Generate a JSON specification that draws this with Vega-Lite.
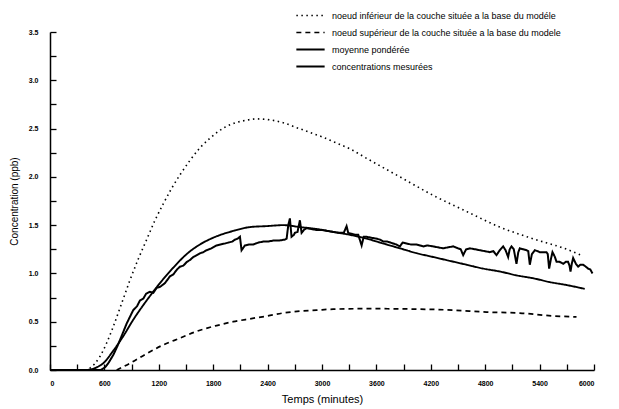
{
  "$schema": "https://vega.github.io/schema/vega-lite/v6.json",
  "width": 544,
  "height": 338,
  "autosize": {"type": "none"},
  "padding": {"left": 50, "top": 32, "right": 25, "bottom": 39},
  "background": "white",
  "config": {
    "view": {"stroke": null},
    "font": "Liberation Sans",
    "axis": {"domainColor": "black", "domainWidth": 1.5, "tickColor": "black", "tickWidth": 1.3, "grid": false, "labelColor": "black", "titleColor": "black", "labelFont": "Liberation Sans", "titleFont": "Liberation Sans", "titleFontWeight": "normal", "zindex": 1}
  },
  "datasets": {
    "curves": [
      {"t": 0, "c": 0, "s": "noeud inférieur de la couche située a la base du modéle"},
      {"t": 380, "c": 0, "s": "noeud inférieur de la couche située a la base du modéle"},
      {"t": 441, "c": 0.02, "s": "noeud inférieur de la couche située a la base du modéle"},
      {"t": 551, "c": 0.14, "s": "noeud inférieur de la couche située a la base du modéle"},
      {"t": 625, "c": 0.28, "s": "noeud inférieur de la couche située a la base du modéle"},
      {"t": 698, "c": 0.45, "s": "noeud inférieur de la couche située a la base du modéle"},
      {"t": 790, "c": 0.69, "s": "noeud inférieur de la couche située a la base du modéle"},
      {"t": 882, "c": 0.93, "s": "noeud inférieur de la couche située a la base du modéle"},
      {"t": 974, "c": 1.15, "s": "noeud inférieur de la couche située a la base du modéle"},
      {"t": 1066, "c": 1.35, "s": "noeud inférieur de la couche située a la base du modéle"},
      {"t": 1158, "c": 1.55, "s": "noeud inférieur de la couche située a la base du modéle"},
      {"t": 1249, "c": 1.72, "s": "noeud inférieur de la couche située a la base du modéle"},
      {"t": 1341, "c": 1.88, "s": "noeud inférieur de la couche située a la base du modéle"},
      {"t": 1433, "c": 2.02, "s": "noeud inférieur de la couche située a la base du modéle"},
      {"t": 1544, "c": 2.17, "s": "noeud inférieur de la couche située a la base du modéle"},
      {"t": 1654, "c": 2.3, "s": "noeud inférieur de la couche située a la base du modéle"},
      {"t": 1764, "c": 2.4, "s": "noeud inférieur de la couche située a la base du modéle"},
      {"t": 1856, "c": 2.47, "s": "noeud inférieur de la couche située a la base du modéle"},
      {"t": 1985, "c": 2.54, "s": "noeud inférieur de la couche située a la base du modéle"},
      {"t": 2131, "c": 2.58, "s": "noeud inférieur de la couche située a la base du modéle"},
      {"t": 2279, "c": 2.6, "s": "noeud inférieur de la couche située a la base du modéle"},
      {"t": 2426, "c": 2.59, "s": "noeud inférieur de la couche située a la base du modéle"},
      {"t": 2572, "c": 2.56, "s": "noeud inférieur de la couche située a la base du modéle"},
      {"t": 2720, "c": 2.51, "s": "noeud inférieur de la couche située a la base du modéle"},
      {"t": 2866, "c": 2.46, "s": "noeud inférieur de la couche située a la base du modéle"},
      {"t": 3013, "c": 2.41, "s": "noeud inférieur de la couche située a la base du modéle"},
      {"t": 3161, "c": 2.35, "s": "noeud inférieur de la couche située a la base du modéle"},
      {"t": 3308, "c": 2.29, "s": "noeud inférieur de la couche située a la base du modéle"},
      {"t": 3495, "c": 2.19, "s": "noeud inférieur de la couche située a la base du modéle"},
      {"t": 3859, "c": 2.0, "s": "noeud inférieur de la couche située a la base du modéle"},
      {"t": 4223, "c": 1.81, "s": "noeud inférieur de la couche située a la base du modéle"},
      {"t": 4598, "c": 1.64, "s": "noeud inférieur de la couche située a la base du modéle"},
      {"t": 4961, "c": 1.48, "s": "noeud inférieur de la couche située a la base du modéle"},
      {"t": 5325, "c": 1.36, "s": "noeud inférieur de la couche située a la base du modéle"},
      {"t": 5700, "c": 1.25, "s": "noeud inférieur de la couche située a la base du modéle"},
      {"t": 5880, "c": 1.18, "s": "noeud inférieur de la couche située a la base du modéle"},

      {"t": 735, "c": 0, "s": "noeud supérieur de la couche située a la base du modele"},
      {"t": 882, "c": 0.07, "s": "noeud supérieur de la couche située a la base du modele"},
      {"t": 1066, "c": 0.17, "s": "noeud supérieur de la couche située a la base du modele"},
      {"t": 1249, "c": 0.26, "s": "noeud supérieur de la couche située a la base du modele"},
      {"t": 1433, "c": 0.33, "s": "noeud supérieur de la couche située a la base du modele"},
      {"t": 1617, "c": 0.4, "s": "noeud supérieur de la couche située a la base du modele"},
      {"t": 1838, "c": 0.46, "s": "noeud supérieur de la couche située a la base du modele"},
      {"t": 2021, "c": 0.5, "s": "noeud supérieur de la couche située a la base du modele"},
      {"t": 2205, "c": 0.53, "s": "noeud supérieur de la couche située a la base du modele"},
      {"t": 2400, "c": 0.56, "s": "noeud supérieur de la couche située a la base du modele"},
      {"t": 2572, "c": 0.59, "s": "noeud supérieur de la couche située a la base du modele"},
      {"t": 2756, "c": 0.61, "s": "noeud supérieur de la couche située a la base du modele"},
      {"t": 2940, "c": 0.62, "s": "noeud supérieur de la couche située a la base du modele"},
      {"t": 3124, "c": 0.63, "s": "noeud supérieur de la couche située a la base du modele"},
      {"t": 3500, "c": 0.635, "s": "noeud supérieur de la couche située a la base du modele"},
      {"t": 4079, "c": 0.63, "s": "noeud supérieur de la couche située a la base du modele"},
      {"t": 4446, "c": 0.62, "s": "noeud supérieur de la couche située a la base du modele"},
      {"t": 4814, "c": 0.6, "s": "noeud supérieur de la couche située a la base du modele"},
      {"t": 5182, "c": 0.59, "s": "noeud supérieur de la couche située a la base du modele"},
      {"t": 5549, "c": 0.56, "s": "noeud supérieur de la couche située a la base du modele"},
      {"t": 5807, "c": 0.55, "s": "noeud supérieur de la couche située a la base du modele"},

      {"t": 0, "c": 0, "s": "moyenne pondérée"},
      {"t": 380, "c": 0, "s": "moyenne pondérée"},
      {"t": 441, "c": 0.005, "s": "moyenne pondérée"},
      {"t": 520, "c": 0.03, "s": "moyenne pondérée"},
      {"t": 588, "c": 0.07, "s": "moyenne pondérée"},
      {"t": 698, "c": 0.2, "s": "moyenne pondérée"},
      {"t": 808, "c": 0.35, "s": "moyenne pondérée"},
      {"t": 918, "c": 0.52, "s": "moyenne pondérée"},
      {"t": 1066, "c": 0.72, "s": "moyenne pondérée"},
      {"t": 1213, "c": 0.9, "s": "moyenne pondérée"},
      {"t": 1360, "c": 1.06, "s": "moyenne pondérée"},
      {"t": 1507, "c": 1.2, "s": "moyenne pondérée"},
      {"t": 1654, "c": 1.3, "s": "moyenne pondérée"},
      {"t": 1801, "c": 1.37, "s": "moyenne pondérée"},
      {"t": 2021, "c": 1.44, "s": "moyenne pondérée"},
      {"t": 2205, "c": 1.48, "s": "moyenne pondérée"},
      {"t": 2389, "c": 1.49, "s": "moyenne pondérée"},
      {"t": 2572, "c": 1.5, "s": "moyenne pondérée"},
      {"t": 2756, "c": 1.48, "s": "moyenne pondérée"},
      {"t": 2940, "c": 1.46, "s": "moyenne pondérée"},
      {"t": 3124, "c": 1.43, "s": "moyenne pondérée"},
      {"t": 3308, "c": 1.4, "s": "moyenne pondérée"},
      {"t": 3492, "c": 1.36, "s": "moyenne pondérée"},
      {"t": 3675, "c": 1.31, "s": "moyenne pondérée"},
      {"t": 3859, "c": 1.26, "s": "moyenne pondérée"},
      {"t": 4043, "c": 1.21, "s": "moyenne pondérée"},
      {"t": 4226, "c": 1.17, "s": "moyenne pondérée"},
      {"t": 4410, "c": 1.13, "s": "moyenne pondérée"},
      {"t": 4594, "c": 1.09, "s": "moyenne pondérée"},
      {"t": 4778, "c": 1.05, "s": "moyenne pondérée"},
      {"t": 4961, "c": 1.02, "s": "moyenne pondérée"},
      {"t": 5145, "c": 0.98, "s": "moyenne pondérée"},
      {"t": 5329, "c": 0.95, "s": "moyenne pondérée"},
      {"t": 5513, "c": 0.91, "s": "moyenne pondérée"},
      {"t": 5696, "c": 0.88, "s": "moyenne pondérée"},
      {"t": 5898, "c": 0.84, "s": "moyenne pondérée"}
    ],
    "measured": [
      {"t": 0, "c": 0, "s": "concentrations mesurées"},
      {"t": 200, "c": 0, "s": "concentrations mesurées"},
      {"t": 400, "c": 0, "s": "concentrations mesurées"},
      {"t": 560, "c": 0, "s": "concentrations mesurées"},
      {"t": 610, "c": 0.03, "s": "concentrations mesurées"},
      {"t": 650, "c": 0.08, "s": "concentrations mesurées"},
      {"t": 700, "c": 0.16, "s": "concentrations mesurées"},
      {"t": 740, "c": 0.24, "s": "concentrations mesurées"},
      {"t": 772, "c": 0.31, "s": "concentrations mesurées"},
      {"t": 845, "c": 0.48, "s": "concentrations mesurées"},
      {"t": 918, "c": 0.62, "s": "concentrations mesurées"},
      {"t": 960, "c": 0.66, "s": "concentrations mesurées"},
      {"t": 992, "c": 0.72, "s": "concentrations mesurées"},
      {"t": 1030, "c": 0.74, "s": "concentrations mesurées"},
      {"t": 1060, "c": 0.79, "s": "concentrations mesurées"},
      {"t": 1103, "c": 0.81, "s": "concentrations mesurées"},
      {"t": 1140, "c": 0.8, "s": "concentrations mesurées"},
      {"t": 1176, "c": 0.85, "s": "concentrations mesurées"},
      {"t": 1213, "c": 0.86, "s": "concentrations mesurées"},
      {"t": 1268, "c": 0.9, "s": "concentrations mesurées"},
      {"t": 1300, "c": 0.94, "s": "concentrations mesurées"},
      {"t": 1323, "c": 0.97, "s": "concentrations mesurées"},
      {"t": 1360, "c": 0.99, "s": "concentrations mesurées"},
      {"t": 1400, "c": 1.04, "s": "concentrations mesurées"},
      {"t": 1433, "c": 1.07, "s": "concentrations mesurées"},
      {"t": 1470, "c": 1.08, "s": "concentrations mesurées"},
      {"t": 1510, "c": 1.12, "s": "concentrations mesurées"},
      {"t": 1545, "c": 1.14, "s": "concentrations mesurées"},
      {"t": 1580, "c": 1.17, "s": "concentrations mesurées"},
      {"t": 1620, "c": 1.19, "s": "concentrations mesurées"},
      {"t": 1660, "c": 1.21, "s": "concentrations mesurées"},
      {"t": 1691, "c": 1.22, "s": "concentrations mesurées"},
      {"t": 1727, "c": 1.24, "s": "concentrations mesurées"},
      {"t": 1780, "c": 1.26, "s": "concentrations mesurées"},
      {"t": 1838, "c": 1.29, "s": "concentrations mesurées"},
      {"t": 1880, "c": 1.3, "s": "concentrations mesurées"},
      {"t": 1930, "c": 1.31, "s": "concentrations mesurées"},
      {"t": 1970, "c": 1.32, "s": "concentrations mesurées"},
      {"t": 2010, "c": 1.33, "s": "concentrations mesurées"},
      {"t": 2040, "c": 1.35, "s": "concentrations mesurées"},
      {"t": 2070, "c": 1.36, "s": "concentrations mesurées"},
      {"t": 2095, "c": 1.38, "s": "concentrations mesurées"},
      {"t": 2113, "c": 1.24, "s": "concentrations mesurées"},
      {"t": 2150, "c": 1.29, "s": "concentrations mesurées"},
      {"t": 2200, "c": 1.3, "s": "concentrations mesurées"},
      {"t": 2242, "c": 1.3, "s": "concentrations mesurées"},
      {"t": 2300, "c": 1.32, "s": "concentrations mesurées"},
      {"t": 2352, "c": 1.33, "s": "concentrations mesurées"},
      {"t": 2400, "c": 1.33, "s": "concentrations mesurées"},
      {"t": 2462, "c": 1.34, "s": "concentrations mesurées"},
      {"t": 2520, "c": 1.34, "s": "concentrations mesurées"},
      {"t": 2591, "c": 1.35, "s": "concentrations mesurées"},
      {"t": 2610, "c": 1.36, "s": "concentrations mesurées"},
      {"t": 2628, "c": 1.5, "s": "concentrations mesurées"},
      {"t": 2646, "c": 1.57, "s": "concentrations mesurées"},
      {"t": 2664, "c": 1.38, "s": "concentrations mesurées"},
      {"t": 2690, "c": 1.4, "s": "concentrations mesurées"},
      {"t": 2701, "c": 1.42, "s": "concentrations mesurées"},
      {"t": 2730, "c": 1.43, "s": "concentrations mesurées"},
      {"t": 2756, "c": 1.55, "s": "concentrations mesurées"},
      {"t": 2775, "c": 1.42, "s": "concentrations mesurées"},
      {"t": 2800, "c": 1.45, "s": "concentrations mesurées"},
      {"t": 2830, "c": 1.47, "s": "concentrations mesurées"},
      {"t": 2880, "c": 1.46, "s": "concentrations mesurées"},
      {"t": 2940, "c": 1.45, "s": "concentrations mesurées"},
      {"t": 3000, "c": 1.45, "s": "concentrations mesurées"},
      {"t": 3060, "c": 1.44, "s": "concentrations mesurées"},
      {"t": 3124, "c": 1.43, "s": "concentrations mesurées"},
      {"t": 3190, "c": 1.42, "s": "concentrations mesurées"},
      {"t": 3240, "c": 1.42, "s": "concentrations mesurées"},
      {"t": 3271, "c": 1.49, "s": "concentrations mesurées"},
      {"t": 3289, "c": 1.42, "s": "concentrations mesurées"},
      {"t": 3330, "c": 1.41, "s": "concentrations mesurées"},
      {"t": 3370, "c": 1.4, "s": "concentrations mesurées"},
      {"t": 3400, "c": 1.4, "s": "concentrations mesurées"},
      {"t": 3437, "c": 1.29, "s": "concentrations mesurées"},
      {"t": 3460, "c": 1.38, "s": "concentrations mesurées"},
      {"t": 3492, "c": 1.38, "s": "concentrations mesurées"},
      {"t": 3540, "c": 1.37, "s": "concentrations mesurées"},
      {"t": 3602, "c": 1.36, "s": "concentrations mesurées"},
      {"t": 3640, "c": 1.35, "s": "concentrations mesurées"},
      {"t": 3675, "c": 1.33, "s": "concentrations mesurées"},
      {"t": 3720, "c": 1.33, "s": "concentrations mesurées"},
      {"t": 3785, "c": 1.31, "s": "concentrations mesurées"},
      {"t": 3820, "c": 1.3, "s": "concentrations mesurées"},
      {"t": 3859, "c": 1.28, "s": "concentrations mesurées"},
      {"t": 3890, "c": 1.32, "s": "concentrations mesurées"},
      {"t": 3933, "c": 1.31, "s": "concentrations mesurées"},
      {"t": 3980, "c": 1.3, "s": "concentrations mesurées"},
      {"t": 4043, "c": 1.3, "s": "concentrations mesurées"},
      {"t": 4080, "c": 1.29, "s": "concentrations mesurées"},
      {"t": 4116, "c": 1.28, "s": "concentrations mesurées"},
      {"t": 4160, "c": 1.29, "s": "concentrations mesurées"},
      {"t": 4226, "c": 1.28, "s": "concentrations mesurées"},
      {"t": 4280, "c": 1.27, "s": "concentrations mesurées"},
      {"t": 4336, "c": 1.26, "s": "concentrations mesurées"},
      {"t": 4390, "c": 1.27, "s": "concentrations mesurées"},
      {"t": 4446, "c": 1.28, "s": "concentrations mesurées"},
      {"t": 4500, "c": 1.26, "s": "concentrations mesurées"},
      {"t": 4530, "c": 1.25, "s": "concentrations mesurées"},
      {"t": 4557, "c": 1.19, "s": "concentrations mesurées"},
      {"t": 4590, "c": 1.25, "s": "concentrations mesurées"},
      {"t": 4631, "c": 1.26, "s": "concentrations mesurées"},
      {"t": 4690, "c": 1.25, "s": "concentrations mesurées"},
      {"t": 4741, "c": 1.24, "s": "concentrations mesurées"},
      {"t": 4800, "c": 1.23, "s": "concentrations mesurées"},
      {"t": 4851, "c": 1.22, "s": "concentrations mesurées"},
      {"t": 4890, "c": 1.23, "s": "concentrations mesurées"},
      {"t": 4925, "c": 1.19, "s": "concentrations mesurées"},
      {"t": 4960, "c": 1.24, "s": "concentrations mesurées"},
      {"t": 4998, "c": 1.28, "s": "concentrations mesurées"},
      {"t": 5025, "c": 1.24, "s": "concentrations mesurées"},
      {"t": 5053, "c": 1.17, "s": "concentrations mesurées"},
      {"t": 5070, "c": 1.25, "s": "concentrations mesurées"},
      {"t": 5090, "c": 1.28, "s": "concentrations mesurées"},
      {"t": 5115, "c": 1.25, "s": "concentrations mesurées"},
      {"t": 5145, "c": 1.1, "s": "concentrations mesurées"},
      {"t": 5165, "c": 1.22, "s": "concentrations mesurées"},
      {"t": 5182, "c": 1.26, "s": "concentrations mesurées"},
      {"t": 5220, "c": 1.25, "s": "concentrations mesurées"},
      {"t": 5256, "c": 1.24, "s": "concentrations mesurées"},
      {"t": 5275, "c": 1.23, "s": "concentrations mesurées"},
      {"t": 5292, "c": 1.09, "s": "concentrations mesurées"},
      {"t": 5315, "c": 1.2, "s": "concentrations mesurées"},
      {"t": 5347, "c": 1.24, "s": "concentrations mesurées"},
      {"t": 5380, "c": 1.23, "s": "concentrations mesurées"},
      {"t": 5402, "c": 1.22, "s": "concentrations mesurées"},
      {"t": 5440, "c": 1.22, "s": "concentrations mesurées"},
      {"t": 5476, "c": 1.22, "s": "concentrations mesurées"},
      {"t": 5490, "c": 1.2, "s": "concentrations mesurées"},
      {"t": 5505, "c": 1.05, "s": "concentrations mesurées"},
      {"t": 5525, "c": 1.15, "s": "concentrations mesurées"},
      {"t": 5542, "c": 1.22, "s": "concentrations mesurées"},
      {"t": 5565, "c": 1.18, "s": "concentrations mesurées"},
      {"t": 5587, "c": 1.12, "s": "concentrations mesurées"},
      {"t": 5620, "c": 1.12, "s": "concentrations mesurées"},
      {"t": 5660, "c": 1.1, "s": "concentrations mesurées"},
      {"t": 5690, "c": 1.12, "s": "concentrations mesurées"},
      {"t": 5714, "c": 1.12, "s": "concentrations mesurées"},
      {"t": 5730, "c": 1.08, "s": "concentrations mesurées"},
      {"t": 5741, "c": 1.02, "s": "concentrations mesurées"},
      {"t": 5755, "c": 1.1, "s": "concentrations mesurées"},
      {"t": 5770, "c": 1.16, "s": "concentrations mesurées"},
      {"t": 5800, "c": 1.1, "s": "concentrations mesurées"},
      {"t": 5825, "c": 1.07, "s": "concentrations mesurées"},
      {"t": 5850, "c": 1.09, "s": "concentrations mesurées"},
      {"t": 5880, "c": 1.09, "s": "concentrations mesurées"},
      {"t": 5910, "c": 1.07, "s": "concentrations mesurées"},
      {"t": 5935, "c": 1.05, "s": "concentrations mesurées"},
      {"t": 5960, "c": 1.04, "s": "concentrations mesurées"},
      {"t": 5983, "c": 1.0, "s": "concentrations mesurées"}
    ]
  },
  "encoding": {
    "x": {
      "field": "t", "type": "quantitative",
      "scale": {"domain": [0, 6000], "nice": false},
      "title": "Temps (minutes)",
      "axis": {
        "values": [0,300,600,900,1200,1500,1800,2100,2400,2700,3000,3300,3600,3900,4200,4500,4800,5100,5400,5700,6000],
        "labelExpr": "datum.value % 600 === 0 ? format(datum.value, 'd') : ''",
        "ticks": true,
        "tickSize": -6,
        "labelPadding": 15,
        "labelFontSize": 7,
        "labelFontWeight": "bold",
        "titleFontSize": 11,
        "titlePadding": 7
      }
    },
    "y": {
      "field": "c", "type": "quantitative",
      "scale": {"domain": [0, 3.5], "nice": false},
      "title": "Concentration (ppb)",
      "axis": {
        "values": [0,0.25,0.5,0.75,1,1.25,1.5,1.75,2,2.25,2.5,2.75,3,3.25,3.5],
        "labelExpr": "datum.value % 0.5 === 0 ? format(datum.value, '.1f') : ''",
        "ticks": true,
        "tickSize": -6,
        "labelPadding": 18,
        "labelFontSize": 7,
        "labelFontWeight": "bold",
        "titleFontSize": 10,
        "titlePadding": 9
      }
    },
    "strokeDash": {
      "field": "s", "type": "nominal",
      "scale": {
        "domain": ["noeud inférieur de la couche située a la base du modéle", "noeud supérieur de la couche située a la base du modele", "moyenne pondérée", "concentrations mesurées"],
        "range": [[1.5, 3.5], [5, 4], [1, 0], [1, 0]]
      },
      "legend": {"orient": "none", "legendX": 245, "legendY": -24, "title": null, "symbolType": "stroke", "symbolSize": 800, "symbolStrokeColor": "black", "labelFontSize": 9, "labelColor": "black", "labelOffset": 6, "labelLimit": 0, "clipHeight": 15, "rowPadding": 2}
    },
    "strokeWidth": {
      "field": "s", "type": "nominal",
      "scale": {
        "domain": ["noeud inférieur de la couche située a la base du modéle", "noeud supérieur de la couche située a la base du modele", "moyenne pondérée", "concentrations mesurées"],
        "range": [1.6, 2, 2.5, 1.4]
      },
      "legend": {"orient": "none", "legendX": 245, "legendY": -24, "title": null, "symbolType": "stroke", "symbolSize": 800, "symbolStrokeColor": "black", "labelFontSize": 9, "labelColor": "black", "labelOffset": 6, "labelLimit": 0, "clipHeight": 15, "rowPadding": 2}
    }
  },
  "layer": [
    {"data": {"name": "curves"}, "mark": {"type": "line", "color": "black", "interpolate": "monotone"}},
    {"data": {"name": "measured"}, "mark": {"type": "line", "color": "black"}}
  ]
}
